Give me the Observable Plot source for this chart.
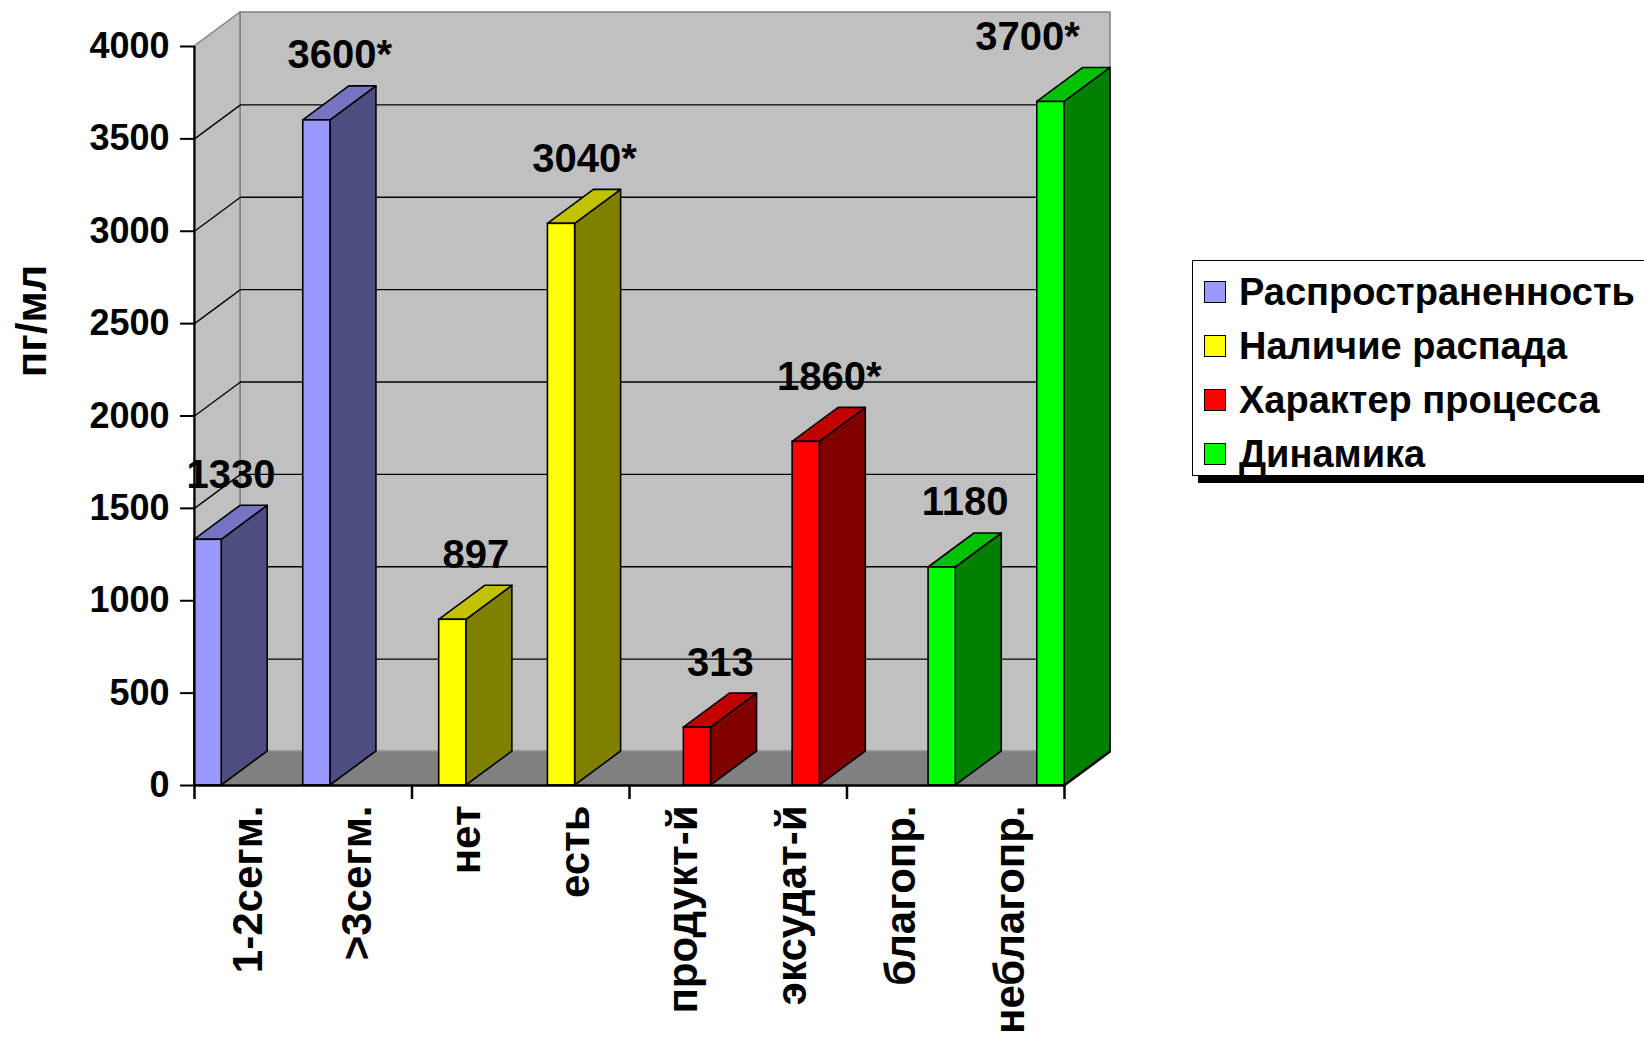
<!DOCTYPE html>
<html>
<head>
<meta charset="utf-8">
<script src="https://cdn.jsdelivr.net/npm/d3@7"></script>
<script src="https://cdn.jsdelivr.net/npm/@observablehq/plot@0.6"></script>
<style>
  html, body { margin: 0; padding: 0; background: #fff; overflow: hidden; }
  #wrap { position: relative; width: 1644px; height: 1038px; overflow: hidden;
          font-family: "Liberation Sans", Arial, sans-serif; font-weight: bold; }
  #chart { position: absolute; left: 0; top: 0; }
  .legend { position: absolute; left: 1192px; top: 260px; width: 520px; height: 216px;
            background: #fff; border: 1.5px solid #000; box-shadow: 6px 7px 0 #000;
            box-sizing: border-box; padding-top: 4px; }
  .legend .row { display: flex; align-items: center; height: 54px; padding-left: 11px;
                 font-size: 38px; color: #000; white-space: nowrap; }
  .legend .sw { width: 20px; height: 20px; border: 1.5px solid #000; margin-right: 13px; flex: none; }
</style>
</head>
<body>
<div id="wrap">
  <div id="chart"></div>
  <div class="legend" id="legend"></div>
</div>
<script>
// Categories along the x axis (two per series)
const categories = ["1-2сегм.", ">3сегм.", "нет", "есть", "продукт-й", "эксудат-й", "благопр.", "неблагопр."];
// Concentration, pg/ml
const values = [1330, 3600, 897, 3040, 313, 1860, 1180, 3700];
// Significance markers shown after the value
const significance = ["", "*", "", "*", "", "*", "", "*"];
// Series (legend entries) and the series each category belongs to
const seriesNames = ["Распространенность", "Наличие распада", "Характер процесса", "Динамика"];
const seriesOfCategory = [0, 0, 1, 1, 2, 2, 3, 3];
const seriesColors = ["#9999FF", "#FFFF00", "#FF0000", "#00FF00"];
// Value axis
const yTicks = [0, 500, 1000, 1500, 2000, 2500, 3000, 3500, 4000];
const gridTicks = [500, 1000, 1500, 2000, 2500, 3000, 3500];

// Frame geometry
const W = 1644, H = 1038;
const ML = 194, MR = 580, MT = 46, MB = 253;
const yMax = 4000;
const nCat = categories.length;
const nSeries = seriesNames.length;
const pxPerCat = (W - ML - MR) / nCat;
// 3D depth of the box, in pixels
const DEPTH_X = 46, DEPTH_Y = 34;
const ddx = DEPTH_X / pxPerCat;
const ddy = DEPTH_Y / ((H - MT - MB) / yMax);
const LABEL_SIZE = 40;

const shade = (c, k) => { const r = d3.rgb(c); return d3.rgb(r.r * k, r.g * k, r.b * k).formatHex(); };

const bars = categories.map((cat, i) => {
  const s = seriesOfCategory[i];
  const x1 = i + s / nSeries, x2 = x1 + 1 / nSeries;
  return {
    id: i, cat, s, x1, x2, value: values[i],
    label: String(values[i]) + significance[i],
    front: seriesColors[s], side: shade(seriesColors[s], 0.5), top: shade(seriesColors[s], 0.76)
  };
});

const sideFaces = bars.flatMap(b => [
  {id: b.id, fill: b.side, x: b.x2, y1: 0, y2: b.value},
  {id: b.id, fill: b.side, x: b.x2 + ddx, y1: ddy, y2: b.value + ddy}
]);
const topFaces = bars.flatMap(b => [
  {id: b.id, fill: b.top, y: b.value, x1: b.x1, x2: b.x2},
  {id: b.id, fill: b.top, y: b.value + ddy, x1: b.x1 + ddx, x2: b.x2 + ddx}
]);

// Value labels: centred over the bar, kept inside the box on the right
const labelRight = nCat + ddx / 2;
const labels = bars.map(b => {
  const half = (b.label.length * 0.6 * LABEL_SIZE) / 2 / pxPerCat;
  const cx = (b.x1 + b.x2) / 2 + ddx / 2;
  return {...b, lx: Math.min(cx, labelRight - half)};
});

const groupTicks = d3.range(0, nCat + 1, 2);
const catCenters = d3.range(nCat).map(i => i + 0.5);

const chart = Plot.plot({
  width: W, height: H,
  marginLeft: ML, marginRight: MR, marginTop: MT, marginBottom: MB,
  x: {type: "linear", domain: [0, nCat]},
  y: {type: "linear", domain: [0, yMax]},
  color: {type: "identity"},
  style: {fontFamily: "'Liberation Sans', Arial, sans-serif", fontSize: "36px", fontWeight: "bold",
          color: "#000", background: "transparent", overflow: "visible"},
  marks: [
    // back wall
    Plot.rect([0], {x1: ddx, x2: nCat + ddx, y1: ddy, y2: yMax + ddy, fill: "#C0C0C0", stroke: "#808080", strokeWidth: 1.5}),
    // side wall
    Plot.areaY([{x: 0, y1: 0, y2: yMax}, {x: ddx, y1: ddy, y2: yMax + ddy}],
      {x: "x", y1: "y1", y2: "y2", fill: "#C0C0C0", stroke: "#808080", strokeWidth: 1.5}),
    // floor
    Plot.areaX([{y: 0, x1: 0, x2: nCat}, {y: ddy, x1: ddx, x2: nCat + ddx}],
      {y: "y", x1: "x1", x2: "x2", fill: "#808080", stroke: "#999999", strokeWidth: 1.2}),
    // gridlines on the back wall and the side wall
    Plot.ruleY(gridTicks, {y: t => t + ddy, x1: ddx, x2: nCat + ddx, stroke: "#000", strokeWidth: 1.3}),
    Plot.link(gridTicks, {x1: 0, y1: t => t, x2: ddx, y2: t => t + ddy, stroke: "#000", strokeWidth: 1.3}),
    // right edge of the floor
    Plot.link([0], {x1: nCat, y1: 0, x2: nCat + ddx, y2: ddy, stroke: "#000", strokeWidth: 2}),
    // bars: side, top and front faces
    Plot.areaY(sideFaces, {x: "x", y1: "y1", y2: "y2", z: "id", fill: "fill", stroke: "#000", strokeWidth: 1.6, strokeLinejoin: "round"}),
    Plot.areaX(topFaces, {y: "y", x1: "x1", x2: "x2", z: "id", fill: "fill", stroke: "#000", strokeWidth: 1.6, strokeLinejoin: "round"}),
    Plot.rectY(bars, {x1: "x1", x2: "x2", y1: 0, y2: "value", fill: "front", stroke: "#000", strokeWidth: 1.6}),
    // value labels
    Plot.text(labels, {x: "lx", y: d => d.value + ddy, text: "label", dy: -18, lineAnchor: "bottom",
                       fontSize: LABEL_SIZE, fill: "#000"}),
    // axes
    Plot.ruleX([0], {y1: 0, y2: yMax, stroke: "#000", strokeWidth: 2.2}),
    Plot.ruleY([0], {x1: 0, x2: nCat, stroke: "#000", strokeWidth: 2.6}),
    Plot.axisY({ticks: yTicks, tickSize: 14, tickPadding: 11, tickFormat: "d", strokeWidth: 2, fill: "#000"}),
    Plot.axisX({ticks: groupTicks, tickSize: 14, tickFormat: () => "", strokeWidth: 2.5}),
    Plot.axisX({ticks: catCenters, tickSize: 0, tickPadding: 20, tickRotate: -90, fontSize: 42,
                tickFormat: t => categories[Math.floor(t)], fill: "#000"}),
    // value axis title
    Plot.text(["пг/мл"], {frameAnchor: "left", textAnchor: "middle", lineAnchor: "middle",
                          dx: -162, dy: -95, rotate: -90, fontSize: 42, text: d => d, fill: "#000"})
  ]
});
document.getElementById("chart").appendChild(chart);

// legend
const legend = document.getElementById("legend");
seriesNames.forEach((name, i) => {
  const row = document.createElement("div");
  row.className = "row";
  const sw = document.createElement("span");
  sw.className = "sw";
  sw.style.background = seriesColors[i];
  const tx = document.createElement("span");
  tx.textContent = name;
  row.appendChild(sw);
  row.appendChild(tx);
  legend.appendChild(row);
});
</script>
</body>
</html>
